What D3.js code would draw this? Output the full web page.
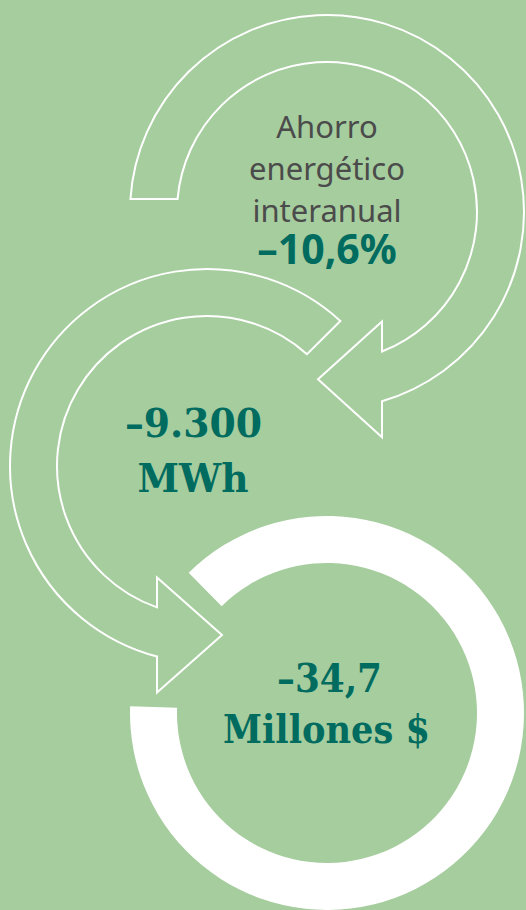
<!DOCTYPE html>
<html>
<head>
<meta charset="utf-8">
<script src="https://d3js.org/d3.v7.min.js"></script>
<style>
body { margin: 0; background: #a6cd9e; }
svg { display: block; }
</style>
</head>
<body>
<div id="chart"></div>
<script>
var width = 526, height = 910;

// text content of the graphic
var introLines = ["Ahorro", "energético", "interanual"];
var values = ["–10,6%", "–9.300", "–34,7"];
var units = ["", "MWh", "Millones $"];

var teal = "#006b5f";
var R = 197, r = 150;   // outer / inner radius of every band

var svg = d3.select("#chart").append("svg")
  .attr("width", width).attr("height", height);

svg.append("rect").attr("width", width).attr("height", height).attr("fill", "#a6cd9e");

var rad = function(d) { return d * Math.PI / 180; };

// curved arrow outline: band from tail angles round to a vertical arrow head at baseX
function arrowPath(c, tailOut, tailIn, baseX, dir, headOver, headUnder, tipDx) {
  var t0 = rad(tailOut), t1 = rad(tailIn);
  var dx = baseX - c.x;
  var yO = c.y + Math.sqrt(R * R - dx * dx);
  var yI = c.y + Math.sqrt(r * r - dx * dx);
  var tO = Math.atan2(yO - c.y, dx), tI = Math.atan2(yI - c.y, dx);
  if (dir > 0) { while (tO < t0) tO += 2 * Math.PI; while (tI < t1) tI += 2 * Math.PI; }
  else { while (tO > t0) tO -= 2 * Math.PI; while (tI > t1) tI -= 2 * Math.PI; }
  var top = yI - headOver, bot = yO + headUnder;
  var p = d3.path();
  p.moveTo(c.x + R * Math.cos(t0), c.y + R * Math.sin(t0));
  p.arc(c.x, c.y, R, t0, tO, dir < 0);
  p.lineTo(baseX, bot);
  p.lineTo(baseX + tipDx, (top + bot) / 2);
  p.lineTo(baseX, top);
  p.lineTo(baseX, yI);
  p.arc(c.x, c.y, r, tI, t1, dir > 0);
  p.closePath();
  return p.toString();
}

var c1 = { x: 327, y: 212 }, c2 = { x: 207, y: 466 }, c3 = { x: 327, y: 713 };

svg.append("path")
  .attr("d", arrowPath(c1, 183.8, 185.0, 382, 1, 30, 36, -64))
  .attr("fill", "none").attr("stroke", "#fff").attr("stroke-width", 2)
  .attr("stroke-linejoin", "miter");

svg.append("path")
  .attr("d", arrowPath(c2, -47.4, -48.2, 157, -1, 30, 36, 65))
  .attr("fill", "none").attr("stroke", "#fff").attr("stroke-width", 2)
  .attr("stroke-linejoin", "miter");

// thick white ring at the bottom
var ring = d3.arc().innerRadius(r).outerRadius(R)
  .startAngle(rad(-44.6)).endAngle(rad(272));

svg.append("path")
  .attr("transform", "translate(" + c3.x + "," + c3.y + ")")
  .attr("d", ring())
  .attr("fill", "#fff");

// texts
svg.selectAll(".intro").data(introLines).enter().append("text")
  .attr("class", "intro")
  .attr("x", 327)
  .attr("y", function(d, i) { return 138 + i * 42; })
  .attr("text-anchor", "middle")
  .style("font-family", "'Noto Sans', sans-serif")
  .style("font-size", "31px")
  .attr("fill", "#4b4b4b")
  .text(function(d) { return d; });

svg.append("text")
  .attr("x", 327).attr("y", 264)
  .attr("text-anchor", "middle")
  .style("font-family", "'Noto Sans', sans-serif")
  .style("font-size", "41px").style("font-weight", "bold")
  .attr("fill", teal)
  .text(values[0]);

var serif = [
  { t: values[1], x: 193.5, y: 437, w: 137 },
  { t: units[1], x: 193, y: 492, w: 111 },
  { t: values[2], x: 329.5, y: 692, w: 105 },
  { t: units[2], x: 326.5, y: 743, w: 207 }
];

svg.selectAll(".slab").data(serif).enter().append("text")
  .attr("class", "slab")
  .attr("x", function(d) { return d.x - d.w / 2; })
  .attr("y", function(d) { return d.y; })
  .attr("textLength", function(d) { return d.w; })
  .attr("lengthAdjust", "spacingAndGlyphs")
  .style("font-family", "'DejaVu Serif', serif")
  .style("font-size", "40px").style("font-weight", "bold")
  .attr("fill", teal)
  .text(function(d) { return d.t; });
</script>
</body>
</html>
